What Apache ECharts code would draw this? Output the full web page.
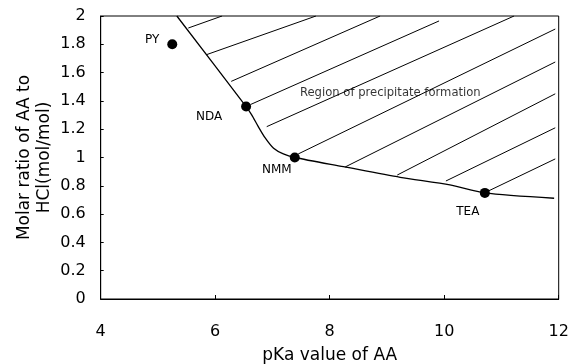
<!DOCTYPE html>
<html>
<head>
<meta charset="utf-8">
<script src="https://cdn.jsdelivr.net/npm/echarts@6/dist/echarts.min.js"></script>
<style>
html,body{margin:0;padding:0;background:#fff;}
#c{width:571px;height:364px;}
</style>
</head>
<body>
<div id="c"></div>
<script>
// Axis ticks
var xTicks = [4, 6, 8, 10, 12];
var yTicks = [0, 0.2, 0.4, 0.6, 0.8, 1, 1.2, 1.4, 1.6, 1.8, 2];

// Amine points (pKa, molar ratio)
var amineNames = ['PY', 'NDA', 'NMM', 'TEA'];
var aminePKa = [5.25, 6.54, 7.39, 10.71];
var amineRatio = [1.80, 1.36, 1.00, 0.75];

// Boundary of precipitate region
var boundaryX = [5.33, 6.54, 6.64, 6.75, 6.87, 7.02, 7.19, 7.39, 8.24, 9.23, 10.10, 10.71, 11.92];
var boundaryY = [2.00, 1.36, 1.30, 1.22, 1.14, 1.065, 1.025, 1.00, 0.935, 0.86, 0.806, 0.75, 0.712];

// Hatch segments (start / end points in data units)
var hatchX1 = [5.53, 5.85, 6.28, 6.62, 6.90, 7.45, 8.27, 9.18, 10.03, 10.77];
var hatchY1 = [1.915, 1.727, 1.538, 1.375, 1.218, 1.025, 0.933, 0.876, 0.834, 0.763];
var hatchX2 = [6.12, 7.76, 8.88, 9.91, 11.22, 11.94, 11.94, 11.94, 11.94, 11.94];
var hatchY2 = [2.00, 2.00, 2.00, 1.965, 2.00, 1.908, 1.675, 1.45, 1.21, 0.99];

// Region text
var regionText = 'Region of precipitate formation';
var regionX = 7.48, regionY = 1.458;

var labelOffsets = {
  'PY': [-20, -4],
  'NDA': [-37, 10],
  'NMM': [-18, 12],
  'TEA': [-17, 19]
};

var FONT = 'DejaVu Sans';

var series = [];
for (var i = 0; i < hatchX1.length; i++) {
  series.push({
    type: 'line',
    data: [[hatchX1[i], hatchY1[i]], [hatchX2[i], hatchY2[i]]],
    symbol: 'none',
    lineStyle: {color: '#000', width: 1},
    silent: true,
    z: 2
  });
}
series.push({
  type: 'line',
  data: boundaryX.map(function (x, k) { return [x, boundaryY[k]]; }),
  symbol: 'none',
  smooth: 0.25,
  lineStyle: {color: '#000', width: 1.3},
  silent: true,
  z: 3
});
series.push({
  type: 'scatter',
  data: amineNames.map(function (n, k) {
    return {
      name: n,
      value: [aminePKa[k], amineRatio[k]],
      label: {offset: labelOffsets[n]}
    };
  }),
  symbol: 'circle',
  symbolSize: 10,
  itemStyle: {color: '#000', opacity: 1},
  label: {
    show: true,
    position: 'inside',
    formatter: function (p) { return p.name; },
    color: '#000',
    fontFamily: FONT,
    fontSize: 12
  },
  z: 4
});
series.push({
  type: 'scatter',
  data: [[regionX, regionY]],
  symbolSize: 0,
  label: {
    show: true,
    position: 'right',
    distance: 0,
    formatter: regionText,
    color: '#000',
    fontFamily: FONT,
    fontSize: 11.6
  },
  z: 5
});

var chart = echarts.init(document.getElementById('c'), null, {renderer: 'canvas'});
chart.setOption({
  animation: false,
  backgroundColor: '#fff',
  grid: {left: 100.7, right: 12.3, top: 16, bottom: 65, containLabel: false, outerBoundsMode: 'none',
    show: true, borderColor: '#000', borderWidth: 1, backgroundColor: 'transparent'},
  xAxis: {
    type: 'value',
    min: xTicks[0],
    max: xTicks[xTicks.length - 1],
    interval: xTicks[1] - xTicks[0],
    name: 'pKa value of AA',
    nameLocation: 'middle',
    nameGap: 48,
    nameTextStyle: {color: '#000', fontFamily: FONT, fontSize: 17},
    axisLine: {show: true, lineStyle: {color: '#000', width: 1}},
    axisTick: {show: true, inside: true, length: 4, lineStyle: {color: '#000'}},
    axisLabel: {color: '#000', fontFamily: FONT, fontSize: 16, margin: 25},
    splitLine: {show: false}
  },
  yAxis: {
    type: 'value',
    min: yTicks[0],
    max: yTicks[yTicks.length - 1],
    interval: 0.2,
    name: 'Molar ratio of AA to\nHCl(mol/mol)',
    nameLocation: 'middle',
    nameGap: 46,
    nameMoveOverlap: false,
    nameTextStyle: {color: '#000', fontFamily: FONT, fontSize: 17, lineHeight: 20},
    axisLine: {show: true, lineStyle: {color: '#000', width: 1}},
    axisTick: {show: true, inside: true, length: 3, lineStyle: {color: '#000'}},
    axisLabel: {color: '#000', fontFamily: FONT, fontSize: 16, margin: 15,
      formatter: function (v) { return String(Math.round(v * 10) / 10); }},
    splitLine: {show: false}
  },
  series: series
});
</script>
</body>
</html>
